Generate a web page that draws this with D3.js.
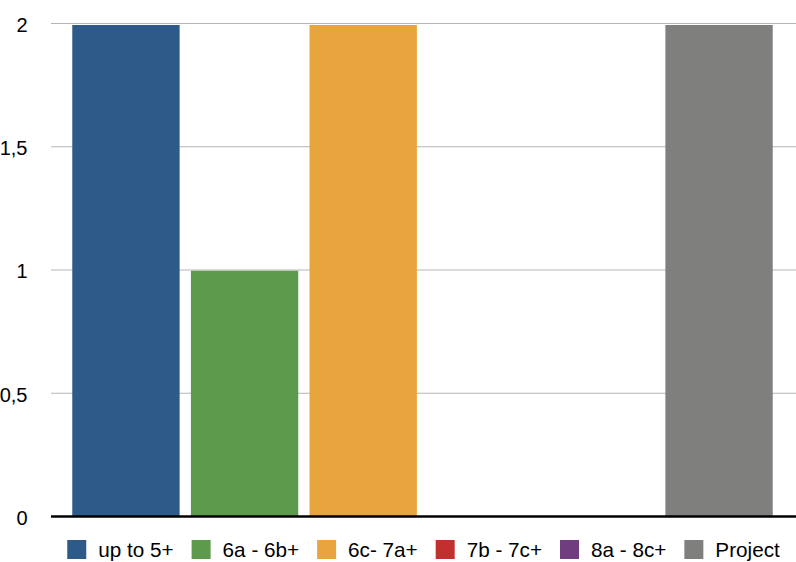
<!DOCTYPE html>
<html>
<head>
<meta charset="utf-8">
<script src="https://cdn.jsdelivr.net/npm/d3@7"></script>
<style>
  body { margin: 0; background: #fff; }
  svg text { font-family: "Liberation Sans", Arial, Helvetica, sans-serif; fill: #000; }
</style>
</head>
<body>
<div id="chart"></div>
<script>
const w = 796;
const h = 562;

// data
const categories = ["up to 5+", "6a - 6b+", "6c- 7a+", "7b - 7c+", "8a - 8c+", "Project"];
const counts = [2, 1, 2, 0, 0, 2];
const colors = ["#2e5a8a", "#5d9a4b", "#e8a43d", "#c1302f", "#703d7e", "#7f807e"];
const yTicks = [0, 0.5, 1, 1.5, 2];

const margin = {top: 23.5, right: 0, bottom: 45.5, left: 51};

const svg = d3.select("#chart").append("svg")
    .attr("width", w)
    .attr("height", h);

const y = d3.scaleLinear()
    .domain([0, 2])
    .range([h - margin.bottom, margin.top]);

// bars stop a hair under the top gridline
const yBar = d3.scaleLinear()
    .domain([0, 2])
    .range([h - margin.bottom, margin.top + 1.5]);

const x = d3.scaleBand()
    .domain(categories)
    .range([margin.left + 10, w - 12])
    .paddingInner(0.095)
    .paddingOuter(0.095);

const color = d3.scaleOrdinal().domain(categories).range(colors);

// gridlines
svg.append("g")
    .selectAll("line")
    .data(yTicks.filter(d => d > 0))
    .enter().append("line")
        .attr("x1", margin.left)
        .attr("x2", w - margin.right)
        .attr("y1", d => y(d))
        .attr("y2", d => y(d))
        .style("stroke", "#b5b5b5")
        .style("stroke-width", 1);

// tick labels
svg.append("g")
    .selectAll("text")
    .data(yTicks)
    .enter().append("text")
        .attr("x", 27.5)
        .attr("y", d => y(d))
        .attr("dy", "0.42em")
        .attr("text-anchor", "end")
        .style("font-size", "20px")
        .text(d => String(d).replace(".", ","));

// bars
svg.append("g")
    .selectAll("rect")
    .data(categories.map((c, i) => ({cat: c, value: counts[i]})))
    .enter().append("rect")
        .attr("x", d => x(d.cat))
        .attr("width", x.bandwidth())
        .attr("y", d => yBar(d.value))
        .attr("height", d => yBar(0) - yBar(d.value))
        .style("fill", d => color(d.cat));

// x axis line
svg.append("line")
    .attr("x1", margin.left)
    .attr("x2", w - margin.right)
    .attr("y1", y(0))
    .attr("y2", y(0))
    .style("stroke", "#000")
    .style("stroke-width", 2.5);

// legend
const legend = svg.append("g").attr("id", "legend");
const items = legend.selectAll(".legend-item")
    .data(categories)
    .enter().append("g")
        .attr("class", "legend-item");

items.append("rect")
    .attr("width", 19)
    .attr("height", 19)
    .attr("y", 540)
    .style("fill", d => color(d));

items.append("text")
    .attr("x", 31)
    .attr("y", 557)
    .style("font-size", "20.7px")
    .text(d => d);

let offset = 0;
const widths = [];
items.each(function() {
    const tw = d3.select(this).select("text").node().getComputedTextLength();
    widths.push(31 + tw);
});
const gap = 18;
const total = d3.sum(widths) + gap * (widths.length - 1);
const startX = (margin.left + w - margin.right) / 2 - total / 2;
items.attr("transform", (d, i) => {
    const tx = startX + offset;
    offset += widths[i] + gap;
    return "translate(" + tx + ",0)";
});
</script>
</body>
</html>
